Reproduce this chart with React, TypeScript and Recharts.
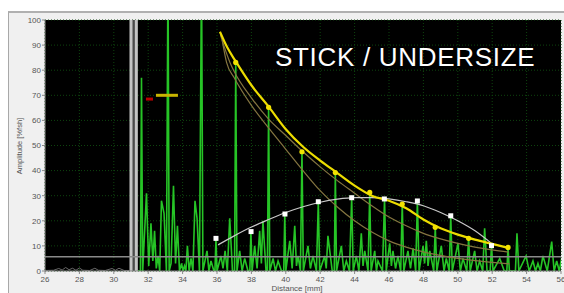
import React from "react";
import {
  ComposedChart,
  Line,
  Scatter,
  XAxis,
  YAxis,
  CartesianGrid,
  ReferenceLine,
  ReferenceArea,
  Label,
} from "recharts";

// axis ticks
const xTicks = [26, 28, 30, 32, 34, 36, 38, 40, 42, 44, 46, 48, 50, 52, 54, 56];
const yTicks = [0, 10, 20, 30, 40, 50, 60, 70, 80, 90, 100];

// [distance mm, amplitude %]
const preGate: [number, number][] = [
  [26.0, 0.2], [26.5, 0.3], [26.8, 1.0], [27.0, 0.4], [27.2, 1.4], [27.4, 0.5],
  [27.6, 1.1], [27.8, 0.3], [28.0, 1.2], [28.2, 0.3], [28.6, 0.2], [28.9, 1.1],
  [29.1, 0.3], [29.5, 0.2], [29.9, 1.0], [30.1, 0.3], [30.3, 1.1], [30.6, 0.2],
  [30.9, 0.2],
];

const signal: [number, number][] = [
  [31.40, 0], [31.55, 0], [31.61, 77], [31.68, 0], [31.90, 31], [32.03, 2],
  [32.16, 19], [32.27, 4], [32.37, 16], [32.47, 1], [32.57, 6], [32.67, 0],
  [32.77, 28], [32.92, 23], [33.06, 0], [33.15, 120], [33.22, 0], [33.33, 3],
  [33.47, 34], [33.59, 3], [33.70, 18], [33.82, 0], [33.94, 3], [34.02, 0],
  [34.11, 2], [34.19, 0], [34.28, 10], [34.38, 0], [34.49, 5], [34.60, 0],
  [34.72, 28], [34.84, 21], [34.98, 0], [35.10, 120], [35.18, 0], [35.42, 8],
  [35.53, 0], [35.65, 4], [35.82, 0], [35.88, 0], [35.94, 13], [36.0, 0],
  [36.23, 6], [36.35, 1], [36.47, 8], [36.60, 0], [36.74, 21], [36.90, 0],
  [37.02, 0], [37.09, 83], [37.16, 0], [37.32, 8], [37.46, 0], [37.61, 5],
  [37.80, 0], [37.91, 0], [37.97, 15.7], [38.04, 0], [38.19, 10], [38.33, 1],
  [38.48, 16], [38.58, 3], [38.67, 20], [38.85, 0], [38.93, 0], [39.0, 65],
  [39.07, 0], [39.26, 5], [39.40, 0], [39.55, 4], [39.75, 0], [39.88, 0],
  [39.94, 22.7], [40.0, 0], [40.23, 12], [40.37, 1], [40.52, 18], [40.62, 2],
  [40.71, 6], [40.85, 0], [40.94, 47.5], [41.02, 0], [41.29, 10], [41.43, 1],
  [41.58, 6], [41.78, 0], [41.89, 27.6], [41.97, 0], [42.26, 6], [42.35, 1],
  [42.45, 14], [42.70, 0], [42.82, 0], [42.88, 39.2], [42.95, 0], [43.23, 10],
  [43.37, 0], [43.52, 4], [43.70, 0], [43.83, 29.2], [43.92, 0], [44.10, 6],
  [44.25, 0], [44.39, 15], [44.49, 2], [44.59, 8], [44.78, 0], [44.88, 31.3],
  [44.96, 0], [45.17, 8], [45.27, 0], [45.36, 4], [45.62, 0], [45.74, 28.7],
  [45.84, 0], [46.04, 11], [46.14, 2], [46.23, 8], [46.38, 1], [46.52, 6],
  [46.68, 0], [46.77, 26.7], [46.86, 0], [47.10, 8], [47.25, 1], [47.40, 9],
  [47.55, 0], [47.65, 27.9], [47.75, 0], [47.98, 10], [48.07, 3], [48.17, 12],
  [48.27, 2], [48.37, 8], [48.60, 0], [48.69, 17.4], [48.78, 0], [49.04, 10],
  [49.20, 0], [49.33, 5], [49.50, 0], [49.59, 22], [49.68, 0], [50.01, 11],
  [50.15, 0], [50.30, 5], [50.52, 0], [50.63, 13], [50.72, 0], [50.98, 8],
  [51.12, 0], [51.27, 4], [51.45, 0], [51.56, 17], [51.70, 0], [51.88, 0],
  [51.96, 10.1], [52.05, 0], [52.44, 5], [52.70, 0], [52.85, 0], [52.92, 9.4],
  [53.0, 0], [53.35, 0], [53.44, 15], [53.55, 0], [53.97, 6], [54.15, 0],
  [54.37, 4], [54.52, 0], [54.66, 3], [54.80, 0], [54.95, 6], [55.20, 0],
  [55.46, 11.7], [55.60, 0], [55.75, 4], [55.90, 0], [56.06, 6],
];

// fitted curves
const echoCurve: [number, number][] = [
  [36.17, 95.3], [36.6, 89], [37.09, 83.5], [38, 74], [39, 65.5], [40, 56.5],
  [41, 49.5], [42, 44], [43, 39], [44, 34], [45, 30], [46, 28], [47, 25],
  [48, 20.5], [49, 17], [50, 14.5], [51, 12.5], [52, 10.8], [52.95, 9.2],
];
const curveUpper: [number, number][] = [
  [36.2, 94], [36.76, 83], [37, 79.5], [38, 69], [39, 60.5], [40, 54],
  [41, 47.5], [42, 41.5], [43, 36], [44, 31], [45, 26], [46, 21.5], [47, 18],
  [48, 15], [49, 12.8], [50, 11], [51, 9.5], [52, 8.4], [52.95, 7.5],
];
const curveLower: [number, number][] = [
  [36.3, 92], [36.56, 83], [37, 77], [38, 66], [39, 57], [40, 48.5], [41, 40],
  [42, 32], [43, 25.5], [44, 20], [45, 15.5], [46, 12], [47, 9.5], [48, 7.6],
  [49, 6.2], [50, 5], [51, 4.1], [52, 3.4], [53, 2.8],
];
const rangeCurve: [number, number][] = [
  [36.06, 10.4], [37, 14], [38, 17.5], [39, 20.5], [40, 23.3], [41, 25.6],
  [42, 27.4], [43, 28.6], [44, 29.2], [45, 29.2], [46, 28.7], [47, 27.6],
  [48, 26], [49, 23.3], [50, 20], [51, 16], [51.96, 11],
];

const echoPeaks: [number, number][] = [
  [37.09, 83.1], [39.0, 65.2], [40.94, 47.5], [42.88, 39.2], [44.88, 31.3],
  [46.77, 26.7], [48.69, 17.4], [50.63, 13.0], [52.92, 9.4],
];
const rangePeaks: [number, number][] = [
  [35.94, 13], [37.98, 15.7], [39.95, 22.7], [41.89, 27.6], [43.83, 29.2],
  [45.73, 28.7], [47.65, 27.9], [49.59, 22], [51.96, 10.1],
];

const redMark: [number, number][] = [[31.87, 68.5], [32.28, 68.5]];
const yellowMark: [number, number][] = [[32.45, 70], [33.73, 70]];

const pts = (a: [number, number][]) => a.map(([d, v]) => ({ d, v }));

const FONT = "'Liberation Sans', Arial, sans-serif";
const tick = { fontSize: 8, fill: "#555", fontFamily: FONT };

export default function App() {
  return (
    <div
      style={{
        position: "fixed",
        left: 0,
        top: 0,
        width: 564,
        height: 293,
        overflow: "hidden",
        background: "#fff",
      }}
    >
      <div
        style={{
          position: "absolute",
          left: 8,
          top: 11,
          right: 0,
          bottom: 0,
          background: "#f0f0f0",
          borderTop: "2px solid #b0b0b0",
          borderLeft: "1px solid #a8a8a8",
        }}
      />
      <div style={{ position: "absolute", left: 0, top: 0 }}>
        <ComposedChart
          width={580}
          height={293}
          margin={{ top: 20, right: 19, bottom: 0, left: 8 }}
        >
          <CartesianGrid
            fill="#000"
            fillOpacity={1}
            stroke="#0e440e"
            strokeDasharray="1 2"
          />
          <XAxis
            dataKey="d"
            type="number"
            domain={[26, 56]}
            ticks={xTicks}
            allowDataOverflow
            height={22}
            tick={tick}
            tickSize={3}
            tickMargin={2}
            axisLine={{ stroke: "#888" }}
            tickLine={{ stroke: "#888" }}
          >
            <Label
              content={() => (
                <text x={297} y={291} textAnchor="middle" fontSize={8} fill="#555" fontFamily={FONT}>
                  Distance [mm]
                </text>
              )}
            />
          </XAxis>
          <YAxis
            dataKey="v"
            type="number"
            domain={[0, 100]}
            ticks={yTicks}
            allowDataOverflow
            width={37}
            tick={tick}
            tickSize={3}
            tickMargin={1}
            axisLine={{ stroke: "#888" }}
            tickLine={{ stroke: "#888" }}
          >
            <Label
              content={() => (
                <text
                  x={0}
                  y={0}
                  transform="translate(22,146) rotate(-90)"
                  textAnchor="middle"
                  fontSize={7.5}
                  fill="#555"
                  fontFamily={FONT}
                >
                  Amplitude [%fsh]
                </text>
              )}
            />
          </YAxis>
          <ReferenceArea x1={30.95} x2={31.36} y1={0} y2={100} fill="#4a4a4a" fillOpacity={1} stroke="none" />
          <ReferenceLine x={31.0} stroke="#c4c4c4" strokeWidth={3} />
          <ReferenceLine x={31.31} stroke="#c4c4c4" strokeWidth={3} />
          <Line data={pts(preGate)} dataKey="v" stroke="#6a6a6a" strokeWidth={1} dot={false} activeDot={false} isAnimationActive={false} />
          <Line data={pts(signal)} dataKey="v" type="linear" stroke="#26c426" strokeWidth={1.6} dot={false} activeDot={false} isAnimationActive={false} />
          <ReferenceLine y={5.7} stroke="#8a8a8a" strokeWidth={1.5} />
          <Line data={pts(redMark)} dataKey="v" stroke="#b80000" strokeWidth={3} dot={false} activeDot={false} isAnimationActive={false} />
          <Line data={pts(yellowMark)} dataKey="v" stroke="#c8b400" strokeWidth={3} dot={false} activeDot={false} isAnimationActive={false} />
          <Line data={pts(curveLower)} dataKey="v" type="monotone" stroke="#857540" strokeWidth={1.2} dot={false} activeDot={false} isAnimationActive={false} />
          <Line data={pts(curveUpper)} dataKey="v" type="monotone" stroke="#857540" strokeWidth={1.2} dot={false} activeDot={false} isAnimationActive={false} />
          <Line data={pts(rangeCurve)} dataKey="v" type="monotone" stroke="#c8c8c8" strokeWidth={1.2} dot={false} activeDot={false} isAnimationActive={false} />
          <Line data={pts(echoCurve)} dataKey="v" type="monotone" stroke="#ecdc00" strokeWidth={2.2} dot={false} activeDot={false} isAnimationActive={false} />
          <Scatter
            data={pts(echoPeaks)}
            dataKey="v"
            isAnimationActive={false}
            shape={(p: any) => <circle cx={p.cx} cy={p.cy} r={2.6} fill="#f2e200" />}
          />
          <Scatter
            data={pts(rangePeaks)}
            dataKey="v"
            isAnimationActive={false}
            shape={(p: any) => <rect x={p.cx - 2.5} y={p.cy - 2.5} width={5} height={5} fill="#fff" />}
          />
        </ComposedChart>
      </div>
      <div
        style={{
          position: "absolute",
          left: 275,
          top: 44,
          fontFamily: FONT,
          fontSize: 26,
          letterSpacing: 0.7,
          lineHeight: "26px",
          color: "#fff",
          whiteSpace: "nowrap",
        }}
      >
        STICK / UNDERSIZE
      </div>
    </div>
  );
}
